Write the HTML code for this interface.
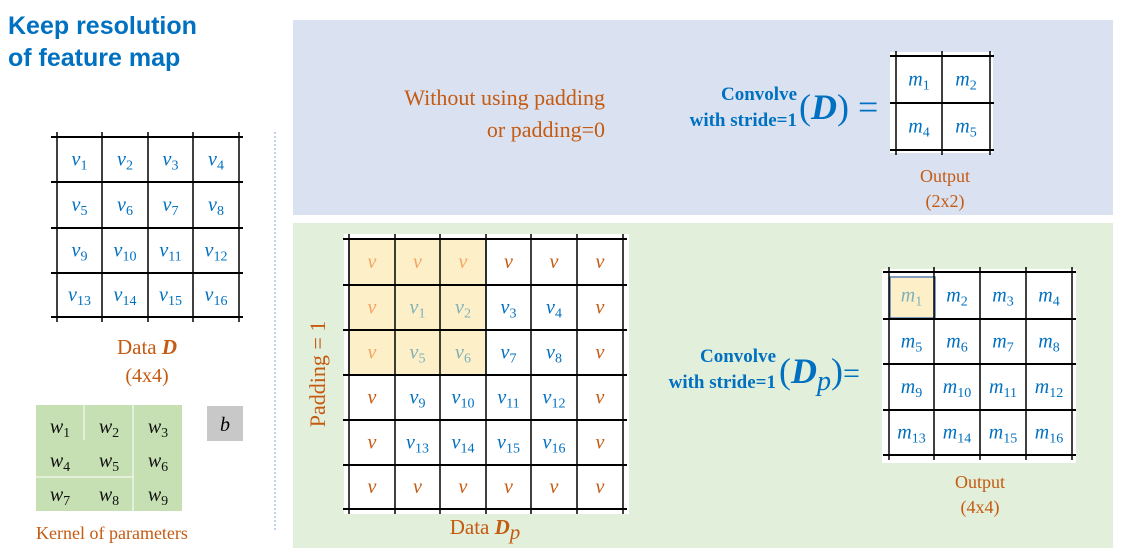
<!DOCTYPE html>
<html><head><meta charset="utf-8"><style>
body{margin:0;background:#fff;width:1139px;height:552px;overflow:hidden}
svg text{font-family:"Liberation Serif",serif}
.v{font-style:italic;font-size:20px}
.o{fill:#c55a11}
.b{font-family:"Liberation Serif",serif;font-weight:bold;fill:#0070c0}
</style></head><body>
<svg id="s" width="1139" height="552" xmlns="http://www.w3.org/2000/svg">
<text x="8" y="34" class="b" font-size="25" style="font-family:'Liberation Sans',sans-serif">Keep resolution</text>
<text x="8" y="66" class="b" font-size="25" style="font-family:'Liberation Sans',sans-serif">of feature map</text>
<line x1="275" y1="132" x2="275" y2="530" stroke="#7fa7d8" stroke-dasharray="2,2"/>
<rect x="293" y="20" width="820" height="195" fill="#dae2f2"/>
<rect x="293" y="223" width="820" height="325" fill="#e2efda"/>
<text x="605" y="105" text-anchor="end" class="o" font-size="22">Without using padding</text>
<text x="605" y="137" text-anchor="end" class="o" font-size="22">or padding=0</text>
<text x="797" y="100" text-anchor="end" class="b" font-size="19">Convolve</text>
<text x="797" y="126" text-anchor="end" class="b" font-size="19">with stride=1</text>
<text x="799" y="119" class="b" font-size="36"><tspan font-weight="normal">(</tspan><tspan font-style="italic">D</tspan><tspan font-weight="normal">)</tspan> <tspan font-weight="normal">=</tspan></text>
<text x="945" y="182" text-anchor="middle" class="o" font-size="18">Output</text>
<text x="945" y="207" text-anchor="middle" class="o" font-size="18">(2x2)</text>
<text x="776" y="362" text-anchor="end" class="b" font-size="19">Convolve</text>
<text x="776" y="388" text-anchor="end" class="b" font-size="19">with stride=1</text>
<text x="779" y="383" class="b" font-size="36"><tspan font-weight="normal">(</tspan><tspan font-style="italic">D</tspan><tspan font-style="italic" font-weight="normal" font-size="28" dy="7">p</tspan><tspan font-weight="normal" dy="-7">)</tspan><tspan font-weight="normal" font-size="30">=</tspan></text>
<text x="980" y="488" text-anchor="middle" class="o" font-size="18">Output</text>
<text x="980" y="513" text-anchor="middle" class="o" font-size="18">(4x4)</text>
<text x="147" y="354" text-anchor="middle" class="o" font-size="21">Data <tspan font-style="italic" font-weight="bold">D</tspan></text>
<text x="147" y="382" text-anchor="middle" class="o" font-size="20">(4x4)</text>
<text x="485" y="534" text-anchor="middle" class="o" font-size="21">Data <tspan font-style="italic" font-weight="bold">D</tspan><tspan font-style="italic" dy="5">p</tspan></text>
<text transform="translate(325,374) rotate(-90)" text-anchor="middle" class="o" font-size="22">Padding = 1</text>
<rect x="36" y="405" width="146" height="106" fill="#c6e0b4"/>
<line x1="84" y1="405" x2="84" y2="440" stroke="#fff"/>
<line x1="133" y1="405" x2="133" y2="511" stroke="#fff"/>
<line x1="36" y1="477" x2="133" y2="477" stroke="#fff"/>
<rect x="207" y="406" width="36" height="35" fill="#c8c8c8"/>
<text x="225" y="431" text-anchor="middle" font-style="italic" font-size="20">b</text>
<text x="36" y="539" class="o" font-size="18">Kernel of parameters</text>
<g id="g"></g>
</svg>
<script>
const dLabels=["1","2","3","4","5","6","7","8","9","10","11","12","13","14","15","16"];
const pLabels=["","","","","","","","1","2","3","4","","","5","6","7","8","","","9","10","11","12","","","13","14","15","16","","","","","","",""];
const oLabels=["1","2","3","4","5","6","7","8","9","10","11","12","13","14","15","16"];
const o2Labels=["1","2","4","5"];
const wLabels=["1","2","3","4","5","6","7","8","9"];
const NS="http://www.w3.org/2000/svg";
const g=document.getElementById('g');
function mk(t,a){const e=document.createElementNS(NS,t);for(const k in a)e.setAttribute(k,a[k]);g.appendChild(e);return e;}
function grid(xs,ys,labels,letter,name,colorFn,bg){
 if(bg){const r=mk('rect',{x:bg[0],y:bg[1],width:bg[2],height:bg[3],fill:'#fff'});
 
 }
 const cols=xs.length-1;
 labels.forEach((l,i)=>{const c=i%cols,r=Math.floor(i/cols);
  const t=mk('text',{x:(xs[c]+xs[c+1])/2,y:(ys[r]+ys[r+1])/2+6,'text-anchor':'middle',class:'v',style:'fill:'+colorFn(l,c,r)});
  
  
  t.textContent=letter;
  if(l!==''){const s=document.createElementNS(NS,'tspan');s.setAttribute('font-size','14');s.setAttribute('font-style','normal');s.setAttribute('dy','4');s.textContent=l;t.appendChild(s);}
 });
 xs.forEach(x=>{const e=mk('line',{x1:x,x2:x,y1:ys[0]-5,y2:ys[ys.length-1]+5,stroke:'#000','stroke-width':1.5});
  
  });
 ys.forEach(y=>{const e=mk('line',{x1:xs[0]-6,x2:xs[xs.length-1]+4,y1:y,y2:y,stroke:'#000','stroke-width':2});
  
  });
}
let h=mk('rect',{x:349,y:239,width:137,height:136,fill:'#fdf0c8',stroke:'#5a7fb0','stroke-width':1.5});


grid([57,102,148,193,239],[137,182,228,273,317],dLabels,'v','data-d',()=>'#0070c0',[50,133,194,188]);
grid([349,395,440,486,531,577,623],[239,285,330,375,420,465,509],pLabels,'v','data-dp',(l,c,r)=>{
 const inWin=c<3&&r<3; if(l==='')return inWin?'#f4a460':'#c55a11'; return inWin?'#7fb0b8':'#0070c0';},null);
h.parentNode.insertBefore(mk('rect',{x:344,y:234,width:285,height:280,fill:'#fff'}),h);
grid([896,942,990],[56,103,150],o2Labels,'m','output-2x2',()=>'#0070c0',[890,52,103,101]);
let h2=mk('rect',{x:890,y:277,width:45,height:41,fill:'#fdf0c8',stroke:'#5a7fb0','stroke-width':1.5});


h2.parentNode.insertBefore(mk('rect',{x:882,y:269,width:194,height:194,fill:'#fff'}),h2);
grid([889,934,980,1026,1072],[272,319,364,410,455],oLabels,'m','output-4x4',(l,c,r)=>(c==0&&r==0)?'#7fb0b8':'#0070c0',null);
wLabels.forEach((l,i)=>{const c=i%3,r=Math.floor(i/3);
 const t=mk('text',{x:60+c*49,y:433+r*34,'text-anchor':'middle','font-style':'italic','font-size':'20',fill:'#111'});
 
 
 t.textContent='w';const s=document.createElementNS(NS,'tspan');s.setAttribute('font-size','14');s.setAttribute('font-style','normal');s.setAttribute('dy','4');s.textContent=l;t.appendChild(s);});
</script>
</body></html>
